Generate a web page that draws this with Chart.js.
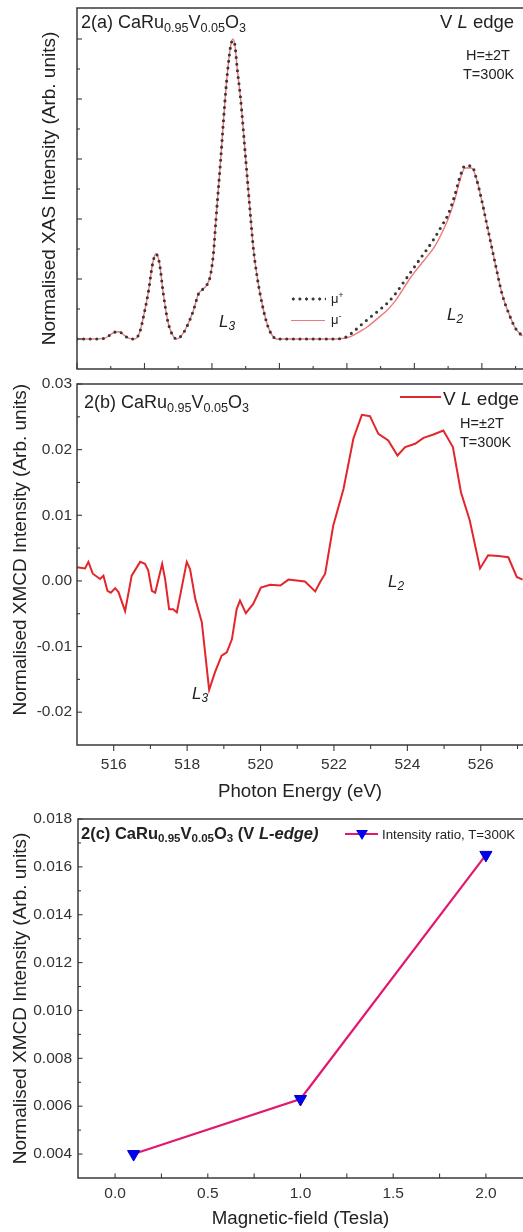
<!DOCTYPE html>
<html>
<head>
<meta charset="utf-8">
<script src="https://cdn.jsdelivr.net/npm/chart.js@4.4.0/dist/chart.umd.min.js"></script>
<style>
  html, body { margin: 0; padding: 0; background: #fff; }
  #page { position: relative; width: 523px; height: 1232px; overflow: hidden; font-family: Arial, "Liberation Sans", sans-serif; color: #222; }
  .panel { position: absolute; left: 0; width: 523px; }
  .lbl { position: absolute; white-space: nowrap; line-height: 1; }
  .lbl sub { font-size: 0.7em; vertical-align: -0.28em; line-height: 0; }
  .lbl sup { font-size: 0.65em; vertical-align: 0.55em; line-height: 0; }
  .it { font-style: italic; }
  .swatch { position: absolute; height: 0; }
  .dots { position: absolute; height: 4px; background: radial-gradient(circle, #3a3a3a 1.4px, transparent 1.8px) 0 0 / 6.6px 4px repeat-x; }
  .tri { position: absolute; width: 0; height: 0; border-left: 6px solid transparent; border-right: 6px solid transparent; border-top: 10px solid #0000ee; }
</style>
</head>
<body>
<div id="page">
  <div class="panel" style="top:0px;height:380px;"><canvas id="xas"></canvas></div>
  <div class="panel" style="top:360px;height:443px;"><canvas id="xmcd"></canvas></div>
  <div class="panel" style="top:790px;height:440px;"><canvas id="field"></canvas></div>

  <!-- panel a -->
  <div class="lbl" style="left:81px;top:13px;font-size:18px;">2(a) CaRu<sub>0.95</sub>V<sub>0.05</sub>O<sub>3</sub></div>
  <div class="lbl" style="left:440px;top:13px;font-size:18.5px;">V <span class="it">L</span> edge</div>
  <div class="lbl" style="left:466px;top:48px;font-size:14.5px;">H=±2T</div>
  <div class="lbl" style="left:463px;top:67px;font-size:14.5px;">T=300K</div>
  <div class="dots" style="left:290px;top:297px;width:36px;"></div>
  <div class="lbl" style="left:331px;top:292px;font-size:13px;">μ<sup>+</sup></div>
  <div class="swatch" style="left:291px;top:320px;width:34px;border-top:1.4px solid rgb(240,120,120);"></div>
  <div class="lbl" style="left:331px;top:313px;font-size:13px;">μ<sup>-</sup></div>
  <div class="lbl it" style="left:219px;top:313px;font-size:17px;">L<sub>3</sub></div>
  <div class="lbl it" style="left:447px;top:306px;font-size:17px;">L<sub>2</sub></div>

  <!-- panel b -->
  <div class="lbl" style="left:84px;top:393px;font-size:18px;">2(b) CaRu<sub>0.95</sub>V<sub>0.05</sub>O<sub>3</sub></div>
  <div class="swatch" style="left:400px;top:396px;width:41px;border-top:2px solid #e3262b;"></div>
  <div class="lbl" style="left:443px;top:389px;font-size:19px;">V <span class="it">L</span> edge</div>
  <div class="lbl" style="left:460px;top:416px;font-size:14.5px;">H=±2T</div>
  <div class="lbl" style="left:460px;top:435px;font-size:14.5px;">T=300K</div>
  <div class="lbl it" style="left:388px;top:573px;font-size:17px;">L<sub>2</sub></div>
  <div class="lbl it" style="left:192px;top:685px;font-size:17px;">L<sub>3</sub></div>

  <!-- panel c -->
  <div class="lbl" style="left:81px;top:825px;font-size:16.5px;font-weight:bold;">2(c) CaRu<sub>0.95</sub>V<sub>0.05</sub>O<sub>3</sub> (V <span class="it">L-edge)</span></div>
  <div class="swatch" style="left:345px;top:833px;width:33px;border-top:2px solid #e3176f;"></div>
  <div class="tri" style="left:356px;top:830px;"></div>
  <div class="lbl" style="left:382px;top:828px;font-size:13.3px;">Intensity ratio, T=300K</div>
</div>

<script>
// (a) XAS, photon energy in eV
var xasEnergy = [514.0, 514.4, 514.8, 515.0, 515.1, 515.25, 515.4, 515.55, 515.7, 515.85, 516.0, 516.12, 516.24, 516.34, 516.44, 516.56, 516.7, 516.85, 516.96, 517.1, 517.25, 517.45, 517.6, 517.75, 517.85, 517.95, 518.04, 518.12, 518.26, 518.39, 518.47, 518.56, 518.62, 518.68, 518.75, 518.85, 519.0, 519.15, 519.23, 519.35, 519.52, 519.65, 519.77, 519.92, 520.5, 521.0, 521.5, 521.8, 522.0, 522.2, 522.4, 522.6, 522.8, 523.0, 523.2, 523.4, 523.6, 523.8, 524.0, 524.2, 524.4, 524.6, 524.8, 525.0, 525.2, 525.35, 525.5, 525.7, 525.85, 526.0, 526.2, 526.4, 526.6, 526.8, 527.0, 527.2];
var xasMuPlus = [0, 0, 0.002, 0.015, 0.022, 0.024, 0.012, 0.002, 0, 0.02, 0.09, 0.16, 0.25, 0.283, 0.255, 0.15, 0.055, 0.01, 0, 0.012, 0.04, 0.095, 0.15, 0.168, 0.18, 0.21, 0.28, 0.4, 0.6, 0.8, 0.9, 0.98, 0.995, 0.98, 0.9, 0.8, 0.6, 0.4, 0.3, 0.2, 0.1, 0.045, 0.015, 0, 0, 0, 0, 0.001, 0.008, 0.025, 0.045, 0.064, 0.082, 0.1, 0.12, 0.145, 0.176, 0.208, 0.24, 0.272, 0.303, 0.337, 0.375, 0.415, 0.48, 0.54, 0.577, 0.577, 0.53, 0.46, 0.355, 0.25, 0.15, 0.085, 0.035, 0.01];
var xasMuMinus = [0, 0, 0.002, 0.015, 0.022, 0.024, 0.012, 0.002, 0, 0.02, 0.09, 0.16, 0.25, 0.285, 0.255, 0.15, 0.055, 0.01, 0, 0.012, 0.04, 0.095, 0.15, 0.168, 0.18, 0.21, 0.28, 0.4, 0.6, 0.8, 0.9, 0.98, 1.0, 0.98, 0.9, 0.8, 0.6, 0.4, 0.3, 0.2, 0.1, 0.045, 0.015, 0, 0, 0, 0, 0.001, 0.004, 0.013, 0.026, 0.04, 0.058, 0.077, 0.097, 0.122, 0.155, 0.19, 0.222, 0.25, 0.278, 0.308, 0.35, 0.4, 0.465, 0.53, 0.57, 0.57, 0.53, 0.46, 0.355, 0.25, 0.15, 0.085, 0.035, 0.01];

// (b) XMCD
var xmcdEnergy = [515.00, 515.22, 515.31, 515.43, 515.63, 515.72, 515.83, 515.92, 516.04, 516.13, 516.31, 516.49, 516.72, 516.85, 516.94, 517.04, 517.13, 517.32, 517.40, 517.51, 517.62, 517.72, 517.99, 518.08, 518.22, 518.40, 518.60, 518.76, 518.94, 519.08, 519.22, 519.35, 519.44, 519.60, 519.80, 520.01, 520.26, 520.54, 520.76, 521.21, 521.49, 521.62, 521.76, 521.98, 522.26, 522.53, 522.76, 522.98, 523.21, 523.48, 523.73, 523.94, 524.21, 524.44, 524.71, 524.98, 525.24, 525.46, 525.70, 525.98, 526.20, 526.48, 526.75, 526.98, 527.14];
var xmcdSignal = [0.0021, 0.0019, 0.0029, 0.0011, 0.0003, 0.0008, -0.0015, -0.0018, -0.0011, -0.0017, -0.0046, 0.0008, 0.0029, 0.0026, 0.0016, -0.0015, -0.0018, 0.0026, 0.0003, -0.0043, -0.0043, -0.0048, 0.0029, 0.0018, -0.0027, -0.0063, -0.0166, -0.0139, -0.0114, -0.0109, -0.0089, -0.0043, -0.0030, -0.0049, -0.0035, -0.0010, -0.0006, -0.0007, 0.0002, -0.0001, -0.0016, -0.0002, 0.0011, 0.0084, 0.0140, 0.0217, 0.0253, 0.0251, 0.0224, 0.0214, 0.0191, 0.0204, 0.0209, 0.0218, 0.0223, 0.0229, 0.0204, 0.0135, 0.0092, 0.0019, 0.0039, 0.0038, 0.0036, 0.0006, 0.0002];
var xmcdEnergyTicks = [516, 518, 520, 522, 524, 526];
var xmcdTicks = [-0.02, -0.01, 0.00, 0.01, 0.02, 0.03];

// (c) intensity ratio vs field
var fieldTesla = [0.1, 1.0, 2.0];
var ratioValues = [0.0040, 0.0063, 0.0165];
var fieldTicks = [0.0, 0.5, 1.0, 1.5, 2.0];
var ratioTicks = [0.004, 0.006, 0.008, 0.010, 0.012, 0.014, 0.016, 0.018];

Chart.defaults.font.family = "Arial, 'Liberation Sans', sans-serif";
Chart.defaults.color = "#333";

// frame + inside/outside tick marks
const tickMarks = {
    id: "tickMarks",
    afterDatasetsDraw(chart, args, opts) {
        const { ctx, chartArea: a } = chart;
        ctx.save();
        ctx.strokeStyle = "#3a3a3a";
        ctx.lineWidth = 1.5;
        ctx.beginPath();
        ctx.moveTo(a.right + 3, a.top);
        ctx.lineTo(a.left, a.top);
        ctx.lineTo(a.left, a.bottom);
        ctx.lineTo(a.right + 3, a.bottom);
        ctx.stroke();
        ctx.lineWidth = 1.1;
        opts.marks.forEach(m => {
            const s = chart.scales[m.axis];
            const n = Math.round((m.to - m.from) / m.step);
            for (let k = 0; k <= n; k++) {
                const p = s.getPixelForValue(m.from + k * m.step);
                const len = k % m.every === 0 ? m.major : m.minor;
                ctx.beginPath();
                if (m.axis === "x") {
                    ctx.moveTo(p, a.bottom);
                    ctx.lineTo(p, a.bottom + (m.inside ? -len : len));
                } else {
                    ctx.moveTo(a.left, p);
                    ctx.lineTo(a.left + (m.inside ? len : -len), p);
                }
                ctx.stroke();
            }
        });
        ctx.restore();
    }
};

const xTitleFont = { size: 18.7 };
const yTitleFont = { size: 19 };
const tickFont = { size: 15.5 };

function pts(xs, ys) {
    return xs.map((x, i) => ({ x: x, y: ys[i] }));
}

new Chart("xas", {
    type: "line",
    data: {
        datasets: [{
            label: "μ+",
            data: pts(xasEnergy, xasMuPlus),
            borderColor: "#383838",
            borderWidth: 3.1,
            borderDash: [0, 6.6],
            borderCapStyle: "round",
            cubicInterpolationMode: "monotone",
            pointRadius: 0,
        },
        {
            label: "μ-",
            data: pts(xasEnergy, xasMuMinus),
            borderColor: "rgb(240,120,120)",
            borderWidth: 1.4,
            cubicInterpolationMode: "monotone",
            pointRadius: 0,
        }],
    },
    options: {
        responsive: true,
        maintainAspectRatio: false,
        animation: false,
        layout: { autoPadding: false, padding: { top: 8, right: 0, bottom: 0, left: 0 } },
        plugins: {
            legend: { display: false },
            tooltip: { enabled: false },
            tickMarks: {
                marks: [
                    { axis: "x", from: 514, to: 527, step: 1, every: 2, major: 6, minor: 3, inside: true },
                    { axis: "y", from: 0, to: 1.0, step: 0.1, every: 2, major: 5, minor: 3, inside: true },
                ],
            },
        },
        scales: {
            x: {
                type: "linear",
                min: 514,
                max: 527.22,
                ticks: { display: false },
                grid: { display: false },
                border: { display: false },
                afterFit: s => { s.height = 11; },
            },
            y: {
                min: -0.1,
                max: 1.1033,
                ticks: { display: false },
                grid: { display: false },
                border: { display: false },
                title: {
                    display: true,
                    text: "Normalised XAS Intensity (Arb. units)",
                    font: yTitleFont,
                    color: "#222",
                    padding: { top: 38, bottom: 0 },
                },
                afterFit: s => { s.width = 77; },
            },
        },
    },
    plugins: [tickMarks],
});

new Chart("xmcd", {
    type: "line",
    data: {
        datasets: [{
            label: "V L edge",
            data: pts(xmcdEnergy, xmcdSignal),
            borderColor: "#e3262b",
            borderWidth: 2,
            pointRadius: 0,
        }],
    },
    options: {
        responsive: true,
        maintainAspectRatio: false,
        animation: false,
        layout: { autoPadding: false, padding: { top: 24, right: 0, bottom: 0, left: 0 } },
        plugins: {
            legend: { display: false },
            tooltip: { enabled: false },
            tickMarks: {
                marks: [
                    { axis: "x", from: 516, to: 527, step: 1, every: 2, major: 6, minor: 4, inside: false },
                    { axis: "y", from: -0.02, to: 0.03, step: 0.005, every: 2, major: 5, minor: 3, inside: true },
                ],
            },
        },
        scales: {
            x: {
                type: "linear",
                min: 515,
                max: 527.15,
                afterBuildTicks: s => { s.ticks = xmcdEnergyTicks.map(v => ({ value: v })); },
                ticks: { font: tickFont, padding: 3, maxRotation: 0, callback: v => v.toFixed(0) },
                grid: { display: false, tickLength: 7 },
                border: { display: false },
                title: {
                    display: true,
                    text: "Photon Energy (eV)",
                    font: xTitleFont,
                    color: "#222",
                    padding: { top: 0, bottom: 0 },
                },
                afterFit: s => { s.height = 58; },
            },
            y: {
                min: -0.025,
                max: 0.03,
                afterBuildTicks: s => { s.ticks = xmcdTicks.map(v => ({ value: v })); },
                ticks: { font: tickFont, padding: 3, callback: v => v.toFixed(2) },
                grid: { display: false, tickLength: 2 },
                border: { display: false },
                title: {
                    display: true,
                    align: "end",
                    text: "Normalised XMCD Intensity (Arb. units)",
                    font: yTitleFont,
                    color: "#222",
                    padding: { top: 9.5, bottom: 0 },
                },
                afterFit: s => { s.width = 77; },
            },
        },
    },
    plugins: [tickMarks],
});

new Chart("field", {
    type: "line",
    data: {
        datasets: [{
            label: "Intensity ratio, T=300K",
            data: pts(fieldTesla, ratioValues),
            borderColor: "#e3176f",
            borderWidth: 2.2,
            pointStyle: "triangle",
            rotation: 180,
            pointRadius: 7,
            pointBackgroundColor: "#0000ee",
            pointBorderColor: "#0000cc",
            pointBorderWidth: 1,
        }],
    },
    options: {
        responsive: true,
        maintainAspectRatio: false,
        animation: false,
        layout: { autoPadding: false, padding: { top: 29, right: 0, bottom: 0, left: 0 } },
        plugins: {
            legend: { display: false },
            tooltip: { enabled: false },
            tickMarks: {
                marks: [
                    { axis: "x", from: 0, to: 2.0, step: 0.25, every: 2, major: 4.5, minor: 4.5, inside: true },
                    { axis: "y", from: 0.004, to: 0.018, step: 0.001, every: 2, major: 4.5, minor: 3, inside: true },
                ],
            },
        },
        scales: {
            x: {
                type: "linear",
                min: -0.2,
                max: 2.2,
                afterBuildTicks: s => { s.ticks = fieldTicks.map(v => ({ value: v })); },
                ticks: { font: tickFont, padding: 3, maxRotation: 0, callback: v => v.toFixed(1) },
                grid: { display: false, tickLength: 3 },
                border: { display: false },
                title: {
                    display: true,
                    text: "Magnetic-field (Tesla)",
                    font: xTitleFont,
                    color: "#222",
                    padding: { top: 0, bottom: 0 },
                },
                afterFit: s => { s.height = 52; },
            },
            y: {
                min: 0.003,
                max: 0.018,
                afterBuildTicks: s => { s.ticks = ratioTicks.map(v => ({ value: v })); },
                ticks: { font: tickFont, padding: 3, callback: v => v.toFixed(3) },
                grid: { display: false, tickLength: 3 },
                border: { display: false },
                title: {
                    display: true,
                    text: "Normalised XMCD Intensity (Arb. units)",
                    font: yTitleFont,
                    color: "#222",
                    padding: { top: 9.5, bottom: 0 },
                },
                afterFit: s => { s.width = 78; },
            },
        },
    },
    plugins: [tickMarks],
});
</script>
</body>
</html>
